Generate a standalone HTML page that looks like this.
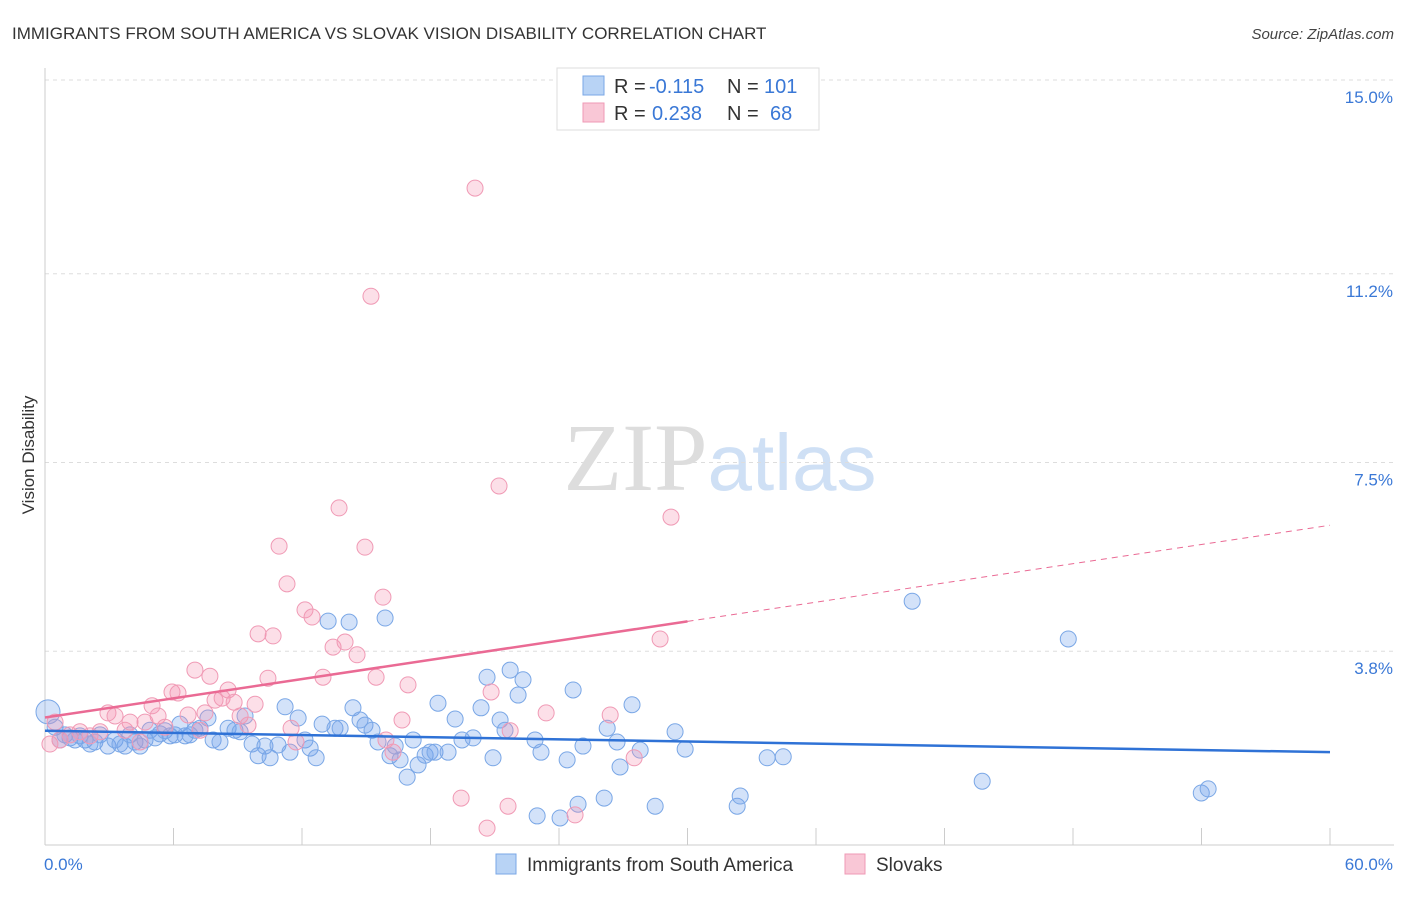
<!DOCTYPE html>
<html><head><meta charset="utf-8"><style>
body{margin:0;background:#fff;font-family:"Liberation Sans",sans-serif}
svg text{font-family:"Liberation Sans",sans-serif}
</style></head><body>
<svg id="chart" width="1406" height="892" xmlns="http://www.w3.org/2000/svg">
<text x="12" y="39" font-size="17" fill="#333">IMMIGRANTS FROM SOUTH AMERICA VS SLOVAK VISION DISABILITY CORRELATION CHART</text>
<text x="1394" y="39" font-size="15" fill="#444" text-anchor="end" font-style="italic">Source: ZipAtlas.com</text>
<text x="720" y="490" font-size="96" text-anchor="middle"><tspan fill="#ddd" font-family="Liberation Serif">ZIP</tspan><tspan fill="#cfe0f5" font-size="80">atlas</tspan></text>
<text transform="translate(34,455) rotate(-90)" font-size="17" fill="#333" text-anchor="middle">Vision Disability</text>
<g id="grid"></g><g id="pts"></g><g id="lines"></g>
<g>
<rect x="557" y="68" width="262" height="62" fill="#fff" stroke="#ddd"/>
<rect x="583" y="76" width="21" height="19" fill="#b8d3f5" stroke="#7aa7e6"/>
<rect x="583" y="103" width="21" height="19" fill="#f9c7d6" stroke="#ef9ab5"/>
<text x="614" y="93" font-size="20" fill="#333">R =</text>
<text x="649" y="93" font-size="20" fill="#3a78d6">-0.115</text>
<text x="727" y="93" font-size="20" fill="#333">N =</text>
<text x="764" y="93" font-size="20" fill="#3a78d6">101</text>
<text x="614" y="120" font-size="20" fill="#333">R =</text>
<text x="652" y="120" font-size="20" fill="#3a78d6">0.238</text>
<text x="727" y="120" font-size="20" fill="#333">N =</text>
<text x="770" y="120" font-size="20" fill="#3a78d6">68</text>
</g>
<g>
<rect x="496" y="854" width="20" height="20" fill="#b8d3f5" stroke="#7aa7e6"/>
<text x="527" y="871" font-size="19" fill="#333">Immigrants from South America</text>
<rect x="845" y="854" width="20" height="20" fill="#f9c7d6" stroke="#ef9ab5"/>
<text x="876" y="871" font-size="19" fill="#333">Slovaks</text>
</g>
</svg>
<script>
const yTicks=[15.0,11.2,7.5,3.8];
const yTickLabels=["15.0%","11.2%","7.5%","3.8%"];
const xLabels=["0.0%","60.0%"];
const blueX=[0.14,0.47,0.70,0.93,1.17,1.40,1.63,1.87,2.10,2.33,2.57,2.94,3.27,3.50,3.74,3.97,4.20,4.44,4.67,4.90,5.14,5.37,5.60,5.84,6.07,6.30,6.54,6.77,7.0,7.24,7.61,7.85,8.17,8.55,8.87,9.11,9.34,9.67,9.95,10.27,10.51,10.88,11.21,11.44,11.82,12.14,12.38,12.66,12.94,13.22,13.54,13.78,14.20,14.38,14.71,14.94,15.27,15.55,15.88,16.11,16.35,16.58,16.91,17.19,17.42,17.75,17.98,18.21,18.35,18.82,19.15,19.47,19.99,20.36,20.64,20.92,21.25,21.48,21.72,22.09,22.32,22.88,23.16,22.98,24.05,24.38,24.66,24.89,25.12,26.11,26.25,26.71,26.85,27.41,27.79,28.49,29.42,29.89,32.32,32.46,33.72,34.47,40.49,43.76,47.78,53.99,54.31];
const blueY=[2.61,2.31,2.06,2.16,2.10,2.06,2.14,2.06,1.98,2.02,2.16,1.94,2.06,1.98,1.94,2.16,2.02,1.94,2.06,2.25,2.10,2.18,2.24,2.14,2.16,2.37,2.14,2.16,2.25,2.29,2.49,2.06,2.02,2.29,2.25,2.22,2.53,1.98,1.75,1.94,1.71,1.96,2.71,1.82,2.49,2.06,1.90,1.71,2.37,4.39,2.29,2.29,4.37,2.69,2.45,2.35,2.25,2.02,4.45,1.75,1.94,1.67,1.33,2.06,1.57,1.76,1.82,1.82,2.78,1.82,2.47,2.06,2.10,2.69,3.29,1.71,2.45,2.25,3.43,2.94,3.24,2.06,1.82,0.57,0.53,1.67,3.04,0.80,1.94,0.92,2.29,2.02,1.53,2.75,1.86,0.76,2.22,1.88,0.76,0.96,1.71,1.73,4.78,1.25,4.04,1.02,1.10];
const pinkX=[0.23,0.47,0.70,1.17,1.63,2.10,2.57,2.94,3.27,3.74,3.97,4.44,4.67,5.0,5.28,5.60,5.93,6.21,6.68,7.0,7.24,7.47,7.70,7.94,8.27,8.55,8.83,9.11,9.48,9.81,9.95,10.41,10.65,10.93,11.30,11.49,11.72,12.14,12.47,12.98,13.45,13.73,14.01,14.57,14.94,15.22,15.46,15.78,15.92,16.25,16.67,16.95,19.43,20.08,20.64,20.83,21.20,21.62,21.72,23.40,24.75,26.39,27.51,28.72,29.23];
const pinkY=[1.98,2.41,2.06,2.16,2.22,2.14,2.22,2.59,2.53,2.25,2.41,2.02,2.41,2.73,2.53,2.31,3.0,2.98,2.55,3.43,2.25,2.59,3.31,2.84,2.88,3.04,2.80,2.53,2.35,2.76,4.14,3.27,4.10,5.86,5.12,2.29,2.02,4.61,4.47,3.29,3.88,6.61,3.98,3.73,5.84,10.76,3.29,4.86,2.06,1.82,2.45,3.14,0.92,12.88,0.33,3.0,7.04,0.76,2.24,2.59,0.59,2.55,1.71,4.04,6.43];
const blueTrend=[2.24,1.82];
const pinkTrend=[2.5,6.27];
const NS="http://www.w3.org/2000/svg";
const sx=v=>45+v/60*1285;
const sy=v=>845-v*51;
function mk(tag,attrs,parent){const e=document.createElementNS(NS,tag);for(const k in attrs)e.setAttribute(k,attrs[k]);parent.appendChild(e);return e;}
const grid=document.getElementById('grid');
yTicks.forEach((t,i)=>{
 const l=mk('line',{x1:45,x2:1394,y1:sy(t),y2:sy(t),stroke:'#ddd','stroke-dasharray':'4,4'},grid);
 
 
 const tx=mk('text',{x:1393,y:sy(t)+23,'font-size':17,fill:'#3a78d6','text-anchor':'end'},grid);
 tx.textContent=yTickLabels[i];
 
 
});
mk('line',{x1:45,x2:45,y1:68,y2:845,stroke:'#ccc'},grid);
mk('line',{x1:45,x2:1394,y1:845,y2:845,stroke:'#ccc'},grid);
for(let v=0;v<=60;v+=6){const t=mk('line',{x1:sx(v),x2:sx(v),y1:828,y2:845,stroke:'#ccc'},grid);
 
 }
[[0,44,'start'],[60,1393,'end']].forEach((a,i)=>{const t=mk('text',{x:a[1],y:870,'font-size':17,fill:'#3a78d6','text-anchor':a[2]},grid);t.textContent=xLabels[i];
 
 });
const pts=document.getElementById('pts');
blueX.forEach((x,i)=>{const c=mk('circle',{cx:sx(x),cy:sy(blueY[i]),r:i==0?12:8,fill:'rgba(110,160,235,0.3)',stroke:'#7aa7e6','stroke-width':1},pts);
 
 });
pinkX.forEach((x,i)=>{const c=mk('circle',{cx:sx(x),cy:sy(pinkY[i]),r:8,fill:'rgba(245,150,180,0.3)',stroke:'#f09ab5','stroke-width':1},pts);
 
 });
const lines=document.getElementById('lines');
const b=mk('line',{x1:sx(0),y1:sy(blueTrend[0]),x2:sx(60),y2:sy(blueTrend[1]),stroke:'#2f72d6','stroke-width':2.5},lines);


const pm=v=>pinkTrend[0]+(pinkTrend[1]-pinkTrend[0])*v/60;
const p1=mk('line',{x1:sx(0),y1:sy(pm(0)),x2:sx(30),y2:sy(pm(30)),stroke:'#ea6a94','stroke-width':2.5},lines);


const p2=mk('line',{x1:sx(30),y1:sy(pm(30)),x2:sx(60),y2:sy(pm(60)),stroke:'#ea6a94','stroke-width':1,'stroke-dasharray':'6,5'},lines);


</script>
</body></html>
